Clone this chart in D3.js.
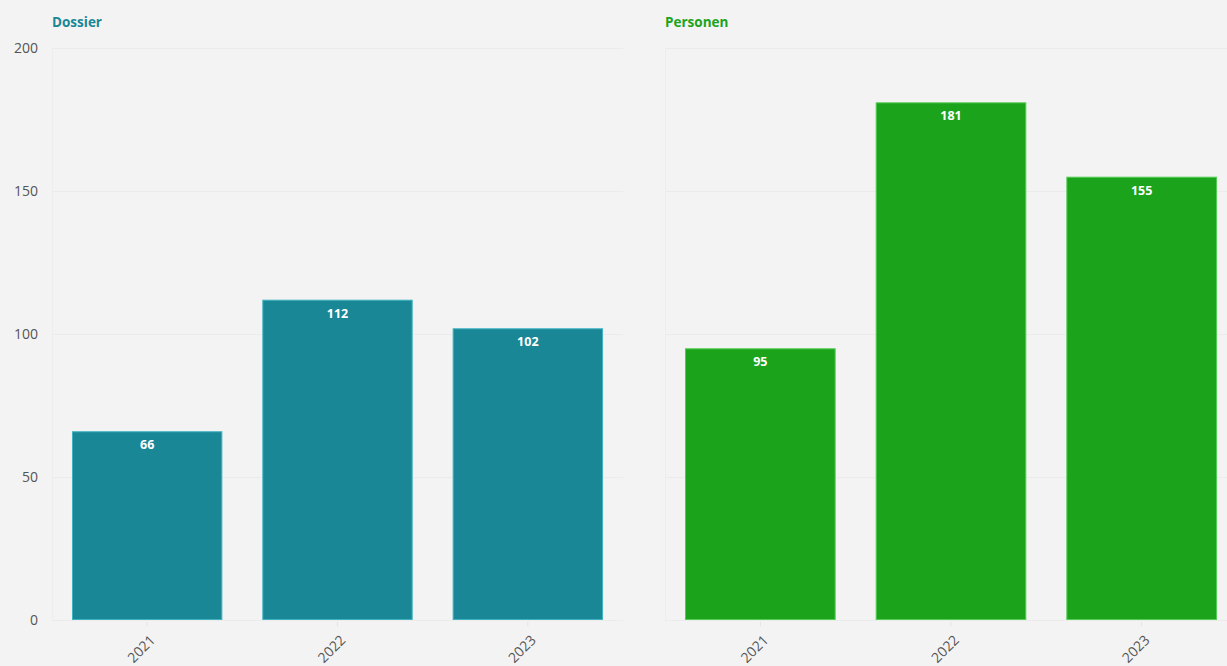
<!DOCTYPE html>
<html>
<head>
<meta charset="utf-8">
<script src="https://cdn.jsdelivr.net/npm/d3@7"></script>
<style>
  html, body { margin: 0; padding: 0; background: #f3f3f3; }
  svg { display: block; font-family: "Open Sans", sans-serif; }
</style>
</head>
<body>
<svg id="chart" width="1227" height="666"></svg>
<script>
// Yearly counts for the two panels
const years = ["2021", "2022", "2023"];
const dossierValues = [66, 112, 102];
const personenValues = [95, 181, 155];
const yTicks = [0, 50, 100, 150, 200];
const panelTitles = ["Dossier", "Personen"];

const svg = d3.select("#chart");
const W = 1227, H = 666;
const plotTop = 48, plotBottom = 620;

const y = d3.scaleLinear().domain([0, 200]).range([plotBottom, plotTop]);

const panels = [
  { title: panelTitles[0], values: dossierValues, x0: 52, x1: 623,
    fill: "#1a8797", stroke: "#3fb3c2", titleColor: "#1a8797" },
  { title: panelTitles[1], values: personenValues, x0: 665, x1: 1237,
    fill: "#1ba31b", stroke: "#52cc52", titleColor: "#1ba31b" }
];

// Y axis labels (shared, drawn once at left)
svg.append("g")
  .selectAll("text")
  .data(yTicks)
  .join("text")
  .attr("x", 38)
  .attr("y", d => y(d))
  .attr("dy", "0.35em")
  .attr("text-anchor", "end")
  .attr("fill", "#555")
  .attr("font-size", 14)
  .text(d => d);

panels.forEach(p => {
  const g = svg.append("g");
  const x = d3.scaleBand()
    .domain(years)
    .range([p.x0, p.x1])
    .paddingInner(0.21)
    .paddingOuter(0.105);

  // gridlines
  g.append("g")
    .selectAll("line")
    .data(yTicks)
    .join("line")
    .attr("x1", p.x0).attr("x2", Math.min(p.x1, W))
    .attr("y1", d => y(d) + 0.5).attr("y2", d => y(d) + 0.5)
    .attr("stroke", "#ebebeb")
    .attr("stroke-width", 1);

  // faint left edge line
  g.append("line")
    .attr("x1", p.x0 + 0.5).attr("x2", p.x0 + 0.5)
    .attr("y1", plotTop).attr("y2", plotBottom)
    .attr("stroke", "#ededed");

  // title
  g.append("text")
    .attr("x", p.x0)
    .attr("y", 27)
    .attr("fill", p.titleColor)
    .attr("font-weight", "bold")
    .attr("font-size", 13.5)
    .text(p.title);

  // bars
  g.append("g")
    .selectAll("rect")
    .data(p.values)
    .join("rect")
    .attr("x", (d, i) => x(years[i]) + 0.5)
    .attr("y", d => y(d) + 0.5)
    .attr("width", x.bandwidth() - 1)
    .attr("height", d => plotBottom - y(d) - 1)
    .attr("fill", p.fill)
    .attr("stroke", p.stroke)
    .attr("stroke-width", 1);

  // value labels
  g.append("g")
    .selectAll("text")
    .data(p.values)
    .join("text")
    .attr("x", (d, i) => x(years[i]) + x.bandwidth() / 2)
    .attr("y", d => y(d) + 18)
    .attr("text-anchor", "middle")
    .attr("fill", "#ffffff")
    .attr("font-weight", "bold")
    .attr("font-size", 12.5)
    .text(d => d);

  // x ticks
  g.append("g")
    .selectAll("line")
    .data(years)
    .join("line")
    .attr("x1", d => x(d) + x.bandwidth() / 2)
    .attr("x2", d => x(d) + x.bandwidth() / 2)
    .attr("y1", plotBottom + 2).attr("y2", plotBottom + 6)
    .attr("stroke", "#e3e3e3");

  // x tick labels, rotated
  g.append("g")
    .selectAll("text")
    .data(years)
    .join("text")
    .attr("transform", d => `translate(${x(d) + x.bandwidth() / 2 + 9},${plotBottom + 21}) rotate(-45)`)
    .attr("text-anchor", "end")
    .attr("fill", "#555")
    .attr("font-size", 14)
    .text(d => d);
});
</script>
</body>
</html>
